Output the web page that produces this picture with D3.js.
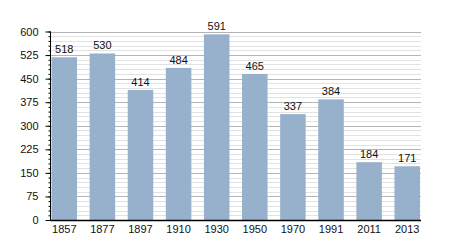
<!DOCTYPE html>
<html>
<head>
<meta charset="utf-8">
<script src="https://cdn.jsdelivr.net/npm/d3@7"></script>
<style>
  body { margin: 0; background: #fff; }
  text { font-family: "Liberation Sans", Arial, sans-serif; font-size: 11px; fill: #111; }
</style>
</head>
<body>
<svg id="chart"></svg>
<script>
const years = ['1857', '1877', '1897', '1910', '1930', '1950', '1970', '1991', '2011', '2013'];
const population = [518, 530, 414, 484, 591, 465, 337, 384, 184, 171];
const majorTicks = [0, 75, 150, 225, 300, 375, 450, 525, 600];

const width = 450, height = 250;
const axisX = 50.5, plotRight = 421, baseY = 220, topY = 31.5;

const svg = d3.select('#chart')
    .attr('width', width)
    .attr('height', height);

const x = d3.scaleBand()
    .domain(years)
    .range([51.5, 420])
    .paddingInner(0.33)
    .paddingOuter(0);

const y = d3.scaleLinear()
    .domain([0, 600])
    .range([baseY, topY]);

// minor gridlines every 15
const minor = d3.range(15, 600, 15).filter(v => v % 75 !== 0);
svg.append('g').selectAll('line')
    .data(minor)
  .join('line')
    .attr('x1', axisX).attr('x2', plotRight)
    .attr('y1', d => Math.round(y(d)) + 0.5)
    .attr('y2', d => Math.round(y(d)) + 0.5)
    .attr('stroke', '#e2e2e2');

// major gridlines
svg.append('g').selectAll('line')
    .data(majorTicks.filter(d => d > 0))
  .join('line')
    .attr('x1', axisX).attr('x2', plotRight)
    .attr('y1', d => Math.round(y(d)) + 0.5)
    .attr('y2', d => Math.round(y(d)) + 0.5)
    .attr('stroke', '#b4b4b4');

// bars
svg.append('g').selectAll('rect')
    .data(years)
  .join('rect')
    .attr('x', d => x(d))
    .attr('width', x.bandwidth())
    .attr('y', (d, i) => y(population[i]))
    .attr('height', (d, i) => baseY - y(population[i]))
    .attr('fill', '#97b1cc');

// value labels
svg.append('g').selectAll('text')
    .data(years)
  .join('text')
    .attr('x', d => x(d) + x.bandwidth() / 2)
    .attr('y', (d, i) => y(population[i]) - 4)
    .attr('text-anchor', 'middle')
    .text((d, i) => population[i]);

// y axis with minor ticks
const yMinor = d3.axisLeft(y)
    .tickValues(d3.range(0, 601, 15))
    .tickSize(2)
    .tickFormat('');
svg.append('g')
    .attr('transform', `translate(${axisX},0)`)
    .call(yMinor)
    .call(g => g.select('.domain').remove())
    .call(g => g.selectAll('line').attr('stroke', '#000'));

const yAxis = d3.axisLeft(y)
    .tickValues(majorTicks)
    .tickSize(5)
    .tickPadding(7);
svg.append('g')
    .attr('transform', `translate(${axisX},0)`)
    .call(yAxis)
    .call(g => g.select('.domain').attr('d', `M0,${topY}V${baseY}`).attr('stroke', '#000'))
    .call(g => g.selectAll('text').attr('font-size', 11).attr('font-family', null).style('fill', '#111'));

// x axis
const xAxis = d3.axisBottom(x)
    .tickSize(0)
    .tickPadding(5);
svg.append('g')
    .attr('transform', `translate(0,${baseY})`)
    .call(xAxis)
    .call(g => g.select('.domain').attr('d', `M${axisX},0.5H${plotRight}`).attr('stroke', '#000').attr('stroke-width', 1.5))
    .call(g => g.selectAll('text').attr('font-size', 11).attr('font-family', null).style('fill', '#111'));
</script>
</body>
</html>
